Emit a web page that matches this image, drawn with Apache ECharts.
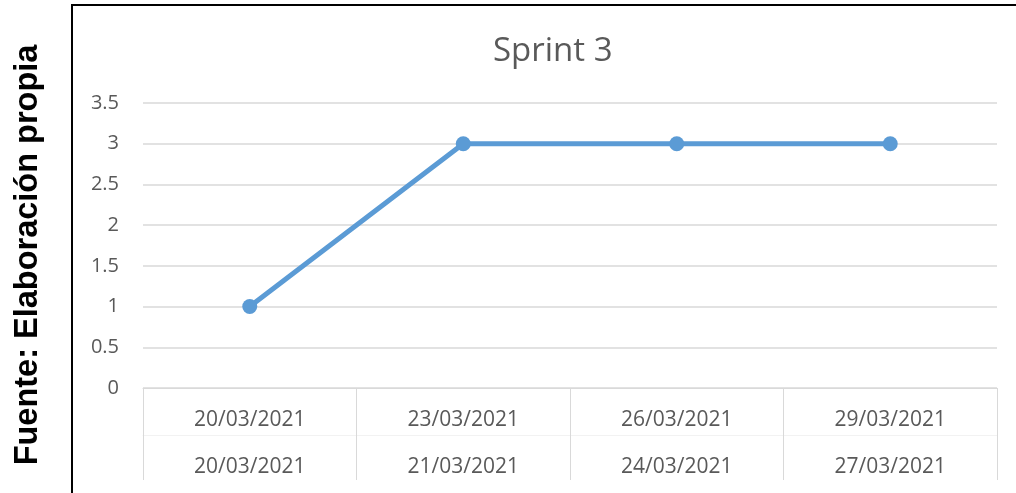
<!DOCTYPE html>
<html>
<head>
<meta charset="utf-8">
<script src="https://cdn.jsdelivr.net/npm/echarts@6/dist/echarts.min.js"></script>
<style>
html,body{margin:0;padding:0;background:#fff;}
#chart{width:1016px;height:493px;}
</style>
</head>
<body>
<div id="chart"></div>
<script>
var titleText = 'Sprint 3';
var sourceText = 'Fuente: Elaboración propia';
var categoriesTop = ['20/03/2021', '23/03/2021', '26/03/2021', '29/03/2021'];
var categoriesBottom = ['20/03/2021', '21/03/2021', '24/03/2021', '27/03/2021'];
var values = [1, 3, 3, 3];
var yMin = 0, yMax = 3.5, yStep = 0.5;

var chart = echarts.init(document.getElementById('chart'), null, {renderer: 'canvas'});
var labelFont = 'Open Sans';
var option = {
  animation: false,
  backgroundColor: '#ffffff',
  title: {
    text: titleText,
    left: 488,
    top: 30,
    textStyle: {fontFamily: labelFont, fontSize: 33, fontWeight: 'normal', color: '#595959'}
  },
  grid: {left: 143, right: 19, top: 103, bottom: 105, containLabel: false},
  xAxis: [
    {
      type: 'category',
      data: categoriesTop,
      position: 'bottom',
      boundaryGap: true,
      axisLine: {show: true, lineStyle: {color: '#d9d9d9', width: 1}},
      axisTick: {show: true, interval: 0, length: 92, lineStyle: {color: '#d9d9d9', width: 1}},
      axisLabel: {interval: 0, margin: 22, fontFamily: labelFont, fontSize: 21, color: '#595959'},
      splitLine: {show: false}
    },
    {
      type: 'category',
      data: categoriesBottom,
      position: 'bottom',
      offset: 47,
      boundaryGap: true,
      axisLine: {show: true, lineStyle: {color: '#f2f2f2', width: 1}},
      axisTick: {show: false},
      axisLabel: {interval: 0, margin: 22, fontFamily: labelFont, fontSize: 21, color: '#595959'},
      splitLine: {show: false}
    }
  ],
  yAxis: {
    type: 'value',
    min: yMin,
    max: yMax,
    interval: yStep,
    axisLine: {show: false},
    axisTick: {show: false},
    axisLabel: {margin: 24, fontFamily: labelFont, fontSize: 20, color: '#595959'},
    splitLine: {show: true, lineStyle: {color: '#d9d9d9', width: 1.5}}
  },
  series: [{
    type: 'line',
    xAxisIndex: 0,
    data: values,
    symbol: 'circle',
    symbolSize: 15,
    lineStyle: {color: '#5b9bd5', width: 5},
    itemStyle: {color: '#5b9bd5'}
  }],
  graphic: [
    {type: 'line', shape: {x1: 72, y1: 4, x2: 72, y2: 493}, style: {stroke: '#000', lineWidth: 2}, z: 100},
    {type: 'line', shape: {x1: 71, y1: 5, x2: 1016, y2: 5}, style: {stroke: '#000', lineWidth: 2}, z: 100},
    {
      type: 'text',
      x: 28, y: 255,
      rotation: Math.PI / 2,
      style: {
        text: sourceText,
        fontFamily: 'Liberation Sans',
        fontWeight: 'bold',
        fontSize: 32.5,
        fill: '#000',
        textAlign: 'center',
        textVerticalAlign: 'middle'
      }
    }
  ]
};
chart.setOption(option);
</script>
</body>
</html>
